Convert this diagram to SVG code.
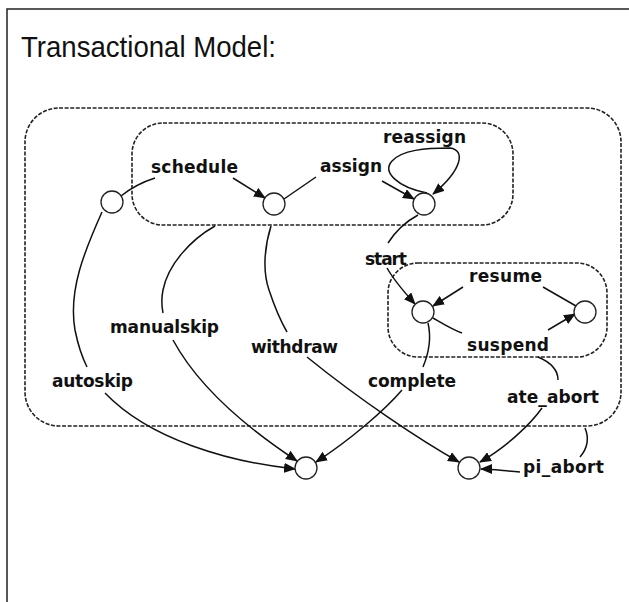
<svg xmlns="http://www.w3.org/2000/svg" width="629" height="602" viewBox="0 0 629 602">
  <style>
    .frame { fill: none; stroke: #222; stroke-width: 1.5; }
    .title { font-family: "Liberation Sans", Arial, sans-serif; font-size: 30px; fill: #111; }
    .box { fill: none; stroke: #222; stroke-width: 1.6; stroke-dasharray: 4 1.6; }
    .state { fill: #fff; stroke: #222; stroke-width: 1.3; }
    .edge { fill: none; stroke: #111; stroke-width: 1.5; }
    .arrow { fill: none; stroke: #111; stroke-width: 1.5; marker-end: url(#head); }
    .lbl { font-family: "DejaVu Sans", Verdana, sans-serif; font-weight: bold; font-size: 17px; fill: #111; }
  </style>
  <defs>
    <marker id="head" viewBox="0 0 12 10" refX="11" refY="5" markerWidth="12" markerHeight="10" markerUnits="userSpaceOnUse" orient="auto">
      <path d="M0,0 L12,5 L0,10 z" fill="#111"/>
    </marker>
  </defs>

  <rect width="629" height="602" fill="#fff"/>
  <path class="frame" d="M7,602 V9 H629"/>
  <text class="title" x="21" y="57" textLength="255" lengthAdjust="spacingAndGlyphs">Transactional Model:</text>

  <!-- scopes -->
  <g id="scope-case">
    <rect class="box" x="25" y="108" width="596" height="318" rx="34" ry="34"/>
  </g>
  <g id="scope-offer">
    <rect class="box" x="132" y="123" width="381" height="102" rx="31" ry="31"/>
  </g>
  <g id="scope-started">
    <rect class="box" x="388" y="263" width="219" height="94" rx="30" ry="30"/>
  </g>

  <!-- connectors -->
  <g id="connectors">
    <path class="edge" d="M121,196 Q136,184 155,178"/>
    <path class="arrow" d="M233,178 L265,198"/>

    <path class="edge" d="M284,199 L316,177"/>
    <path class="arrow" d="M382,181 L414,199"/>

    <path class="arrow" d="M427,193 C397,187 382,172 392,161 C402,150 425,148 450,148 C466,150 462,170 433,194"/>

    <path class="edge" d="M418,215 C405,222 395,232 388,243"/>
    <path class="arrow" d="M387,268 C395,282 405,293 415,304"/>

    <path class="edge" d="M543,287 L576,306"/>
    <path class="arrow" d="M463,287 L433,306"/>

    <path class="edge" d="M433,318 C445,325 453,330 462,333"/>
    <path class="arrow" d="M548,330 L575,314"/>

    <path class="edge" d="M428,323 C432,340 428,355 423,367"/>
    <path class="arrow" d="M402,390 C385,410 350,440 316,462"/>

    <path class="edge" d="M538,357 C550,362 558,370 558,380"/>
    <path class="arrow" d="M542,408 C530,425 505,448 480,462"/>

    <path class="edge" d="M585,428 C590,440 586,450 580,457"/>
    <path class="arrow" d="M520,472 C505,471 492,469 481,469"/>

    <path class="edge" d="M271,226 C265,245 262,270 269,290 C274,305 280,320 287,332"/>
    <path class="arrow" d="M307,357 C360,400 420,440 459,462"/>

    <path class="edge" d="M215,226 C190,240 168,265 163,290 C161,300 162,308 163,313"/>
    <path class="arrow" d="M173,340 C200,390 250,430 297,461"/>

    <path class="edge" d="M102,212 C85,250 68,290 75,330 C78,345 82,357 87,367"/>
    <path class="arrow" d="M105,393 C150,440 230,462 295,469"/>
  </g>

  <!-- states -->
  <g id="s-initial"><circle class="state" cx="112" cy="202" r="11"/></g>
  <g id="s-offered"><circle class="state" cx="274" cy="204" r="11"/></g>
  <g id="s-allocated"><circle class="state" cx="424" cy="204" r="11"/></g>
  <g id="s-started"><circle class="state" cx="423" cy="312" r="11"/></g>
  <g id="s-suspended"><circle class="state" cx="585" cy="312" r="11"/></g>
  <g id="s-completed"><circle class="state" cx="306" cy="468" r="11"/></g>
  <g id="s-aborted"><circle class="state" cx="469" cy="468" r="11"/></g>

  <!-- transition labels -->
  <g id="labels">
    <text class="lbl" x="151" y="173" textLength="87" lengthAdjust="spacing">schedule</text>
    <text class="lbl" x="320" y="172" textLength="62" lengthAdjust="spacing">assign</text>
    <text class="lbl" x="383" y="143" textLength="83" lengthAdjust="spacing">reassign</text>
    <text class="lbl" x="365" y="265" textLength="42" lengthAdjust="spacing">start</text>
    <text class="lbl" x="469" y="282" textLength="73" lengthAdjust="spacing">resume</text>
    <text class="lbl" x="467" y="351" textLength="82" lengthAdjust="spacing">suspend</text>
    <text class="lbl" x="368" y="387" textLength="88" lengthAdjust="spacing">complete</text>
    <text class="lbl" x="507" y="403" textLength="92" lengthAdjust="spacing">ate_abort</text>
    <text class="lbl" x="523" y="473" textLength="81" lengthAdjust="spacing">pi_abort</text>
    <text class="lbl" x="110" y="333" textLength="109" lengthAdjust="spacing">manualskip</text>
    <text class="lbl" x="52" y="387" textLength="81" lengthAdjust="spacing">autoskip</text>
    <text class="lbl" x="251" y="353" textLength="87" lengthAdjust="spacing">withdraw</text>
  </g>
</svg>
